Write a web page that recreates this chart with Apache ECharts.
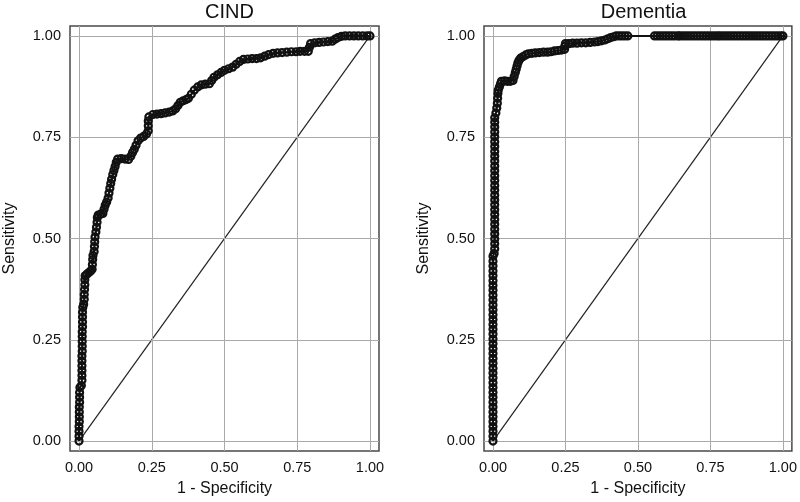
<!DOCTYPE html>
<html><head><meta charset="utf-8">
<script src="https://cdn.jsdelivr.net/npm/echarts@6/dist/echarts.min.js"></script>
<style>html,body{margin:0;padding:0;background:#fff}#c{width:800px;height:502px}</style>
</head><body><div id="c"></div>
<script>
const panelTitles = ['CIND', 'Dementia'];
const xTitle = '1 - Specificity';
const yTitle = 'Sensitivity';
const tickValues = [0, 0.25, 0.5, 0.75, 1];

// CIND ROC points [1 - specificity, sensitivity]
const cindPoints = [
[0,0],[0,0.012],[0,0.024],[0,0.036],[0.001,0.048],[0.001,0.06],[0.001,0.072],[0.001,0.084],[0.002,0.096],[0.002,0.108],[0.002,0.12],[0.003,0.132],
[0.008,0.137],[0.01,0.15],[0.01,0.162],[0.01,0.174],[0.01,0.186],[0.01,0.198],[0.01,0.21],[0.011,0.222],[0.011,0.234],[0.011,0.246],[0.011,0.258],[0.011,0.27],[0.012,0.282],[0.012,0.294],[0.012,0.306],[0.012,0.318],[0.013,0.33],
[0.016,0.338],[0.018,0.35],[0.018,0.362],[0.019,0.374],[0.02,0.386],[0.02,0.398],[0.021,0.408],
[0.027,0.412],[0.034,0.416],[0.04,0.42],[0.045,0.424],[0.046,0.436],[0.047,0.448],[0.048,0.458],[0.052,0.468],[0.053,0.48],[0.054,0.492],[0.055,0.504],[0.058,0.516],[0.06,0.528],[0.062,0.54],[0.063,0.552],[0.066,0.558],[0.074,0.56],[0.082,0.562],
[0.086,0.572],[0.09,0.582],[0.095,0.59],[0.1,0.6],[0.103,0.612],[0.106,0.624],[0.109,0.636],[0.112,0.646],[0.116,0.658],[0.12,0.668],[0.124,0.678],[0.128,0.688],[0.133,0.696],[0.145,0.697],[0.158,0.696],[0.17,0.695],[0.178,0.703],[0.184,0.712],[0.19,0.72],[0.196,0.73],[0.203,0.741],[0.212,0.748],[0.222,0.752],[0.232,0.758],[0.238,0.766],[0.238,0.778],[0.238,0.79],[0.24,0.8],
[0.254,0.806],[0.268,0.807],[0.282,0.808],[0.296,0.81],[0.31,0.812],[0.322,0.815],[0.332,0.82],[0.34,0.828],[0.348,0.836],[0.358,0.84],[0.368,0.843],[0.376,0.846],[0.386,0.856],[0.396,0.866],[0.408,0.874],[0.42,0.879],[0.434,0.881],[0.448,0.882],[0.456,0.89],[0.464,0.898],[0.476,0.904],[0.488,0.91],[0.5,0.915],[0.514,0.919],[0.528,0.923],[0.54,0.93],[0.552,0.937],[0.565,0.942],[0.58,0.943],[0.595,0.944],[0.61,0.944],[0.624,0.946],[0.638,0.95],[0.652,0.954],[0.667,0.957],[0.682,0.958],[0.698,0.959],[0.714,0.96],[0.73,0.961],[0.746,0.961],[0.76,0.962],[0.775,0.962],[0.788,0.962],[0.792,0.972],[0.796,0.981],[0.81,0.983],[0.825,0.984],[0.84,0.985],[0.855,0.986],[0.87,0.987],[0.88,0.992],[0.89,0.996],[0.902,0.999],[0.915,1],[0.93,1],[0.945,1],[0.96,1],[0.975,1],[0.99,1],[1,1]
];

// Dementia ROC points [1 - specificity, sensitivity]
const dementiaPoints = [
[0,0],[0,0.012],[0,0.024],[0,0.036],[0,0.048],[0,0.06],[0,0.072],[0,0.084],[0,0.096],[0,0.108],[0,0.12],[0,0.132],[0,0.144],[0,0.156],[0,0.168],[0,0.18],[0,0.192],[0,0.204],[0,0.216],[0,0.228],[0,0.24],[0,0.252],[0,0.264],[0,0.276],[0,0.288],[0,0.3],[0,0.312],[0,0.324],[0,0.336],[0,0.348],[0,0.36],[0,0.372],[0,0.384],[0,0.396],[0,0.408],[0,0.42],[0,0.432],[0,0.444],[0,0.456],
[0.004,0.463],[0.006,0.475],[0.006,0.487],[0.006,0.499],[0.006,0.511],[0.006,0.523],[0.006,0.535],[0.006,0.547],[0.006,0.559],[0.006,0.571],[0.006,0.583],[0.006,0.595],[0.006,0.607],[0.006,0.619],[0.006,0.631],[0.006,0.643],[0.006,0.655],[0.006,0.667],[0.006,0.679],[0.006,0.691],[0.006,0.703],[0.006,0.715],[0.006,0.727],[0.006,0.739],[0.006,0.751],[0.006,0.763],[0.006,0.775],[0.006,0.787],[0.006,0.798],
[0.01,0.81],[0.013,0.822],[0.015,0.834],[0.016,0.846],[0.017,0.858],[0.018,0.866],[0.022,0.874],[0.026,0.882],[0.029,0.888],[0.04,0.889],[0.05,0.888],[0.06,0.888],[0.069,0.89],[0.073,0.9],[0.077,0.91],[0.08,0.918],[0.083,0.926],[0.086,0.934],[0.09,0.94],[0.095,0.945],[0.104,0.949],[0.113,0.953],[0.122,0.956],[0.134,0.957],[0.146,0.958],[0.16,0.959],[0.174,0.96],[0.188,0.96],[0.2,0.961],[0.212,0.963],[0.224,0.964],[0.236,0.965],[0.247,0.967],[0.248,0.975],[0.25,0.981],[0.262,0.981],[0.275,0.982],[0.29,0.982],[0.305,0.983],[0.32,0.983],[0.335,0.984],[0.35,0.985],[0.362,0.986],[0.374,0.988],[0.386,0.99],[0.396,0.993],[0.406,0.996],[0.416,0.998],[0.425,1],[0.435,1],[0.445,1],[0.455,1],[0.465,1],
[0.557,1],[0.567,1],[0.577,1],[0.587,1],[0.597,1],[0.607,1],[0.617,1],[0.627,1],[0.638,1],
[0.644,1],[0.654,1],[0.664,1],[0.674,1],[0.684,1],[0.694,1],[0.704,1],[0.714,1],[0.724,1],[0.734,1],[0.744,1],[0.754,1],[0.764,1],[0.774,1],[0.782,1],
[0.792,1],[0.802,1],[0.812,1],[0.822,1],[0.832,1],[0.842,1],[0.852,1],[0.862,1],[0.872,1],[0.882,1],[0.892,1],[0.902,1],[0.912,1],[0.922,1],[0.932,1],[0.942,1],[0.952,1],[0.962,1],[0.972,1],[0.982,1],[0.992,1],[1,1]
];

const referenceLine = [[0,0],[1,1]];

const FONT = 'Liberation Sans, Arial, sans-serif';
const chart = echarts.init(document.getElementById('c'), null, {renderer:'canvas'});
const gridLefts = [70, 484];
const curves = [cindPoints, dementiaPoints];

const grids = [], xAxes = [], yAxes = [], series = [], titles = [];
gridLefts.forEach((left, i) => {
  grids.push({left: left, top: 26, width: 309, height: 427, show: true,
    borderColor: '#4a4a4a', borderWidth: 1.5, backgroundColor: '#fff', containLabel: false});
  titles.push({text: panelTitles[i], left: left + 154.5, top: -3, textAlign: 'center',
    textStyle: {fontFamily: FONT, fontSize: 20, fontWeight: 'normal', color: '#111'}});
  xAxes.push({type: 'value', gridIndex: i, min: -0.031, max: 1.031,
    name: xTitle, nameLocation: 'middle', nameGap: 30,
    nameTextStyle: {fontFamily: FONT, fontSize: 16, color: '#111'},
    axisLine: {show: false},
    axisTick: {show: true, length: 5, customValues: tickValues, lineStyle: {color: '#4a4a4a', width: 1}},
    axisLabel: {show: true, customValues: tickValues, margin: 9, fontFamily: FONT, fontSize: 14.5, color: '#111',
      formatter: v => v.toFixed(2)},
    splitLine: {show: false}});
  yAxes.push({type: 'value', gridIndex: i, min: -0.0245, max: 1.0245,
    name: yTitle, nameLocation: 'middle', nameGap: 52, nameRotate: 90,
    nameTextStyle: {fontFamily: FONT, fontSize: 16, color: '#111'},
    axisLine: {show: false},
    axisTick: {show: true, length: 5, customValues: tickValues, lineStyle: {color: '#4a4a4a', width: 1}},
    axisLabel: {show: true, customValues: tickValues, margin: 9, fontFamily: FONT, fontSize: 14.5, color: '#111',
      formatter: v => v.toFixed(2)},
    splitLine: {show: false}});
  // reference diagonal + gridlines
  series.push({type: 'line', xAxisIndex: i, yAxisIndex: i, data: referenceLine, symbol: 'none',
    lineStyle: {color: '#222', width: 1.2}, z: 2, silent: true,
    markLine: {silent: true, symbol: 'none', label: {show: false}, animation: false,
      lineStyle: {color: '#aaaaaa', width: 1, type: 'solid'},
      data: tickValues.map(v => ({xAxis: v})).concat(tickValues.map(v => ({yAxis: v})))}});
  series.push({type: 'line', xAxisIndex: i, yAxisIndex: i, data: curves[i],
    symbol: 'circle', symbolSize: 7, showAllSymbol: true, clip: false,
    itemStyle: {color: 'rgba(255,255,255,0)', borderColor: '#111', borderWidth: 2.2},
    lineStyle: {color: '#111', width: 2}, z: 5, silent: true});
});

chart.setOption({animation: false, backgroundColor: '#fff', title: titles,
  grid: grids, xAxis: xAxes, yAxis: yAxes, series: series});
</script></body></html>
